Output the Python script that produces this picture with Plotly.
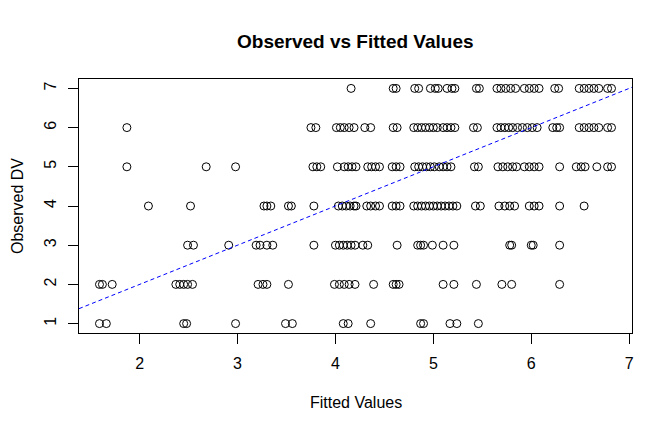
import plotly.graph_objects as go

# Fitted values for each observed DV level
observed_levels = [1, 2, 3, 4, 5, 6, 7]
fitted_obs1 = [1.59, 1.66, 2.45, 2.48, 2.98, 3.49, 3.56, 4.08, 4.13, 4.36, 4.87, 4.90, 5.17, 5.24, 5.46]
fitted_obs2 = [1.59, 1.62, 1.72, 2.37, 2.41, 2.45, 2.49, 2.54, 3.21, 3.26, 3.30, 3.52, 3.99, 4.04,
               4.09, 4.14, 4.20, 4.39, 4.59, 4.62, 4.65, 5.10, 5.21, 5.44, 5.70, 5.80, 6.29]
fitted_obs3 = [2.49, 2.55, 2.91, 3.19, 3.23, 3.30, 3.36, 3.78, 4.00, 4.04, 4.08, 4.12, 4.16, 4.20,
               4.28, 4.33, 4.63, 4.84, 4.87, 4.90, 4.99, 5.10, 5.21, 5.78, 5.80, 6.00, 6.02, 6.29]
fitted_obs4 = [2.09, 2.52, 3.27, 3.30, 3.34, 3.52, 3.55, 3.78, 4.03, 4.07, 4.11, 4.15, 4.19, 4.21,
               4.32, 4.36, 4.41, 4.45, 4.58, 4.62, 4.66, 4.80, 4.84, 4.88, 4.92, 4.96, 5.00, 5.04,
               5.08, 5.12, 5.16, 5.20, 5.24, 5.43, 5.48, 5.67, 5.73, 5.78, 5.83, 5.98, 6.03, 6.08,
               6.29, 6.54]
fitted_obs5 = [1.87, 2.68, 2.98, 3.77, 3.81, 3.85, 4.02, 4.09, 4.13, 4.17, 4.21, 4.33, 4.37, 4.41,
               4.45, 4.58, 4.62, 4.66, 4.81, 4.85, 4.89, 4.93, 4.97, 5.01, 5.06, 5.10, 5.14, 5.18,
               5.42, 5.46, 5.66, 5.71, 5.76, 5.81, 5.85, 5.93, 5.98, 6.03, 6.08, 6.29, 6.46, 6.51,
               6.55, 6.67, 6.78, 6.82]
fitted_obs6 = [1.87, 3.75, 3.80, 4.01, 4.05, 4.09, 4.14, 4.19, 4.30, 4.36, 4.59, 4.63, 4.80, 4.84,
               4.88, 4.92, 4.96, 5.00, 5.04, 5.10, 5.14, 5.18, 5.22, 5.41, 5.45, 5.65, 5.69, 5.73,
               5.77, 5.81, 5.86, 5.91, 5.96, 6.01, 6.06, 6.22, 6.26, 6.29, 6.49, 6.54, 6.59, 6.64,
               6.69, 6.78, 6.82]
fitted_obs7 = [4.16, 4.59, 4.62, 4.81, 4.85, 4.97, 5.02, 5.05, 5.14, 5.19, 5.22, 5.44, 5.47, 5.65,
               5.69, 5.74, 5.79, 5.84, 5.93, 5.98, 6.03, 6.08, 6.24, 6.28, 6.49, 6.54, 6.59, 6.64,
               6.69, 6.78, 6.82]
fitted_by_level = [fitted_obs1, fitted_obs2, fitted_obs3, fitted_obs4, fitted_obs5, fitted_obs6, fitted_obs7]

x_ticks = [2, 3, 4, 5, 6, 7]
y_ticks = [1, 2, 3, 4, 5, 6, 7]
abline_intercept = 0
abline_slope = 1

xs, ys = [], []
for lvl, fv in zip(observed_levels, fitted_by_level):
    xs.extend(fv)
    ys.extend([lvl] * len(fv))

# R-style 4% axis extension
xmin, xmax = min(xs), max(xs)
ymin, ymax = min(ys), max(ys)
xr = [xmin - 0.04 * (xmax - xmin), xmax + 0.04 * (xmax - xmin)]
yr = [ymin - 0.04 * (ymax - ymin), ymax + 0.04 * (ymax - ymin)]

FONT = "Liberation Sans, Arial, Helvetica, sans-serif"

fig = go.Figure()
fig.add_trace(go.Scatter(
    x=xs, y=ys, mode="markers",
    marker=dict(symbol="circle-open", size=8, color="black", line=dict(width=1, color="black")),
    showlegend=False, hoverinfo="x+y",
))
fig.add_trace(go.Scatter(
    x=xr, y=[abline_intercept + abline_slope * v for v in xr], mode="lines",
    line=dict(color="blue", width=1, dash="4px,3px"),
    showlegend=False, hoverinfo="skip",
))

OFF = 8  # page body margin offset
W, H = 672 - OFF, 432 - OFF
L, T = 79 - OFF, 79 - OFF
R, B = 40, 99
pw, ph = W - L - R, H - T - B

fig.update_layout(
    width=W, height=H,
    margin=dict(l=L, r=R, t=T, b=B, pad=0),
    paper_bgcolor="white", plot_bgcolor="white",
    font=dict(family=FONT, size=16, color="black"),
    xaxis=dict(range=xr, tickvals=x_ticks, ticktext=[str(v) for v in x_ticks],
               showgrid=False, zeroline=False, showline=True, linecolor="black", linewidth=1,
               mirror=True, ticks="outside", ticklen=10, tickcolor="black", tickwidth=1,
               tickfont=dict(size=16), ticklabelstandoff=6, automargin=False),
    yaxis=dict(range=yr, tickvals=y_ticks, ticktext=[str(v) for v in y_ticks],
               showgrid=False, zeroline=False, showline=True, linecolor="black", linewidth=1,
               mirror=True, ticks="outside", ticklen=10, tickcolor="black", tickwidth=1,
               tickfont=dict(size=16), tickangle=-90, ticklabelstandoff=6, automargin=False),
    annotations=[
        dict(text="<b>Observed vs Fitted Values</b>", xref="paper", yref="paper",
             x=0.5, y=1 + (79 - 41) / ph, xanchor="center", yanchor="middle",
             showarrow=False, font=dict(size=19, family=FONT)),
        dict(text="Fitted Values", xref="paper", yref="paper",
             x=0.5, y=-(402 - 333) / ph, xanchor="center", yanchor="middle",
             showarrow=False, font=dict(size=16, family=FONT)),
        dict(text="Observed DV", xref="paper", yref="paper",
             x=-(79 - 17) / pw, y=0.5, xanchor="center", yanchor="middle", textangle=-90,
             showarrow=False, font=dict(size=16, family=FONT)),
    ],
)

fig.write_html("out.html")
